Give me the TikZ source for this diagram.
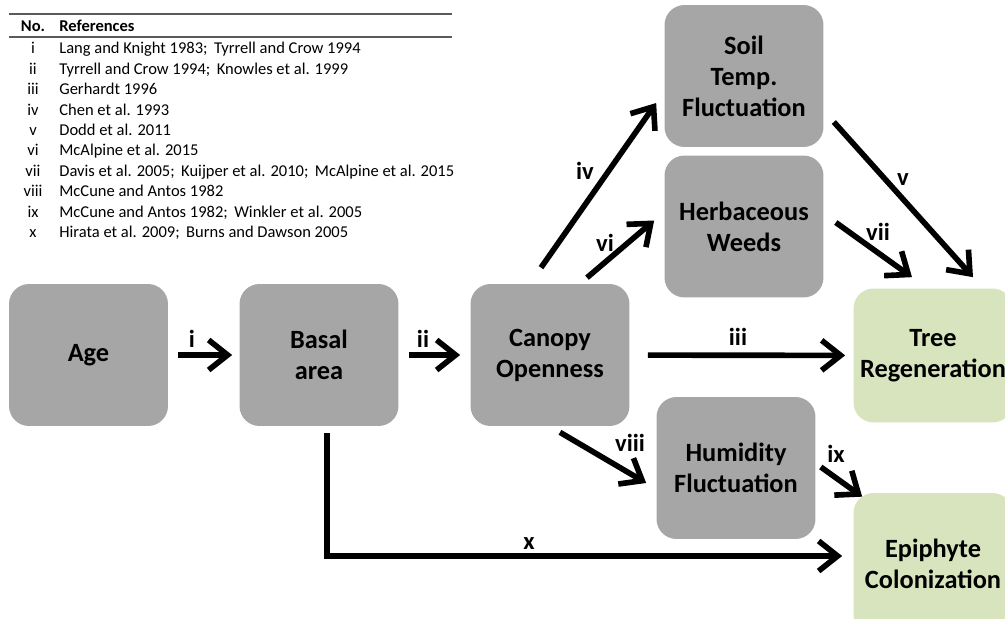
\documentclass[tikz,border=0pt]{standalone}
\usepackage{fontspec}
\setmainfont{Carlito}
\usetikzlibrary{arrows.meta}
\definecolor{box-grey}{RGB}{166,166,166}
\definecolor{box-green}{RGB}{215,228,189}
\definecolor{rule-grey}{RGB}{90,90,90}
\tikzset{
    factor/.style = {fill=box-grey, rounded corners=0.4cm, minimum width=3.18cm,
        minimum height=2.84cm, align=center, inner sep=0pt,
        font=\bfseries\fontsize{15}{17.6}\selectfont},
    outcome/.style = {factor, fill=box-green},
    link/.style = {line width=3.2pt, -{Straight Barb[length=3.8mm,width=6mm]}},
    linklabel/.style = {inner sep=0pt, font=\bfseries\fontsize{14}{17}\selectfont},
    refno/.style = {inner sep=0pt, text height=1.6ex, text depth=0.4ex,
        font=\fontsize{9.4}{11}\selectfont},
    reftext/.style = {refno, anchor=west},
}

\begin{document}
\begin{tikzpicture}[x=0.02cm,y=-0.02cm]
\useasboundingbox (0,0) rectangle (1005,619);
\clip (0,0) rectangle (1005,619);

% reference table
\draw[rule-grey, line width=1.1pt] (9,14) -- (452,14);
\draw[rule-grey, line width=1.1pt] (9,37) -- (452,37);
\node[refno, font=\bfseries\fontsize{9.4}{11}\selectfont] (hno) at (33,26) {No.};
\node[reftext, font=\bfseries\fontsize{9.4}{11}\selectfont] (href) at (59,26) {References};
\node[refno] (n1) at (33,48) {i};
\node[reftext] (r1) at (59,48) {Lang and Knight 1983;\, Tyrrell and Crow 1994};
\node[refno] (n2) at (33,69) {ii};
\node[reftext] (r2) at (59,69) {Tyrrell and Crow 1994;\, Knowles et al. 1999};
\node[refno] (n3) at (33,89) {iii};
\node[reftext] (r3) at (59,89) {Gerhardt 1996};
\node[refno] (n4) at (33,110) {iv};
\node[reftext] (r4) at (59,110) {Chen et al. 1993};
\node[refno] (n5) at (33,130) {v};
\node[reftext] (r5) at (59,130) {Dodd et al. 2011};
\node[refno] (n6) at (33,150) {vi};
\node[reftext] (r6) at (59,150) {McAlpine et al. 2015};
\node[refno] (n7) at (33,171) {vii};
\node[reftext] (r7) at (59,171) {Davis et al. 2005;\, Kuijper et al. 2010;\, McAlpine et al. 2015};
\node[refno] (n8) at (33,191) {viii};
\node[reftext] (r8) at (59,191) {McCune and Antos 1982};
\node[refno] (n9) at (33,212) {ix};
\node[reftext] (r9) at (59,212) {McCune and Antos 1982;\, Winkler et al. 2005};
\node[refno] (n10) at (33,232) {x};
\node[reftext] (r10) at (59,232) {Hirata et al. 2009;\, Burns and Dawson 2005};

% boxes
\node[factor] (age) at (88.5,355) {Age};
\node[factor] (basal) at (319,355) {Basal\\area};
\node[factor] (canopy) at (550,355) {Canopy\\Openness};
\node[factor] (soil) at (744,76) {Soil\\Temp.\\Fluctuation};
\node[factor] (weeds) at (744,226.5) {Herbaceous\\Weeds};
\node[factor] (humid) at (736,468) {Humidity\\Fluctuation};
\node[outcome, minimum height=2.68cm] (tree) at (933,355.5) {Tree\\Regeneration};
\node[outcome] (epi) at (933,564) {Epiphyte\\Colonization};

% links
\draw[link, shorten <=0.2cm, shorten >=0.14cm] (age) -- (basal);
\draw[link, shorten <=0.2cm, shorten >=0.2cm] (basal) -- (canopy);
\draw[link, shorten <=0.36cm, shorten >=0.16cm] (canopy) -- (tree);
\draw[link] ([shift={(-9,-16)}]canopy.north) -- ([shift={(-8,27)}]soil.west);
\draw[link] ([shift={(37,-6)}]canopy.north) -- ([shift={(-10,-6)}]weeds.west);
\draw[link] ([shift={(10,46)}]soil.east) -- ([shift={(40,-11)}]tree.north);
\draw[link] ([shift={(12,-4)}]weeds.east) -- ([shift={(-21,-11)}]tree.north);
\draw[link] ([shift={(10,6)}]canopy.south) -- ([shift={(-10,15)}]humid.west);
\draw[link] ([shift={(5,-1)}]humid.east) -- ([shift={(9,4)}]epi.north west);
\draw[link] ([shift={(8,7)}]basal.south) |- ([shift={(-11,-8)}]epi.west);

% link labels
\node[linklabel] (li) at (192,339) {i};
\node[linklabel] (lii) at (423,339) {ii};
\node[linklabel] (liii) at (738,337) {iii};
\node[linklabel] (liv) at (585,171) {iv};
\node[linklabel] (lv) at (903,180) {v};
\node[linklabel] (lvi) at (605,243) {vi};
\node[linklabel] (lvii) at (878,232) {vii};
\node[linklabel] (lviii) at (630,443) {viii};
\node[linklabel] (lix) at (836,454) {ix};
\node[linklabel] (lx) at (529,544) {x};

\end{tikzpicture}
\end{document}
